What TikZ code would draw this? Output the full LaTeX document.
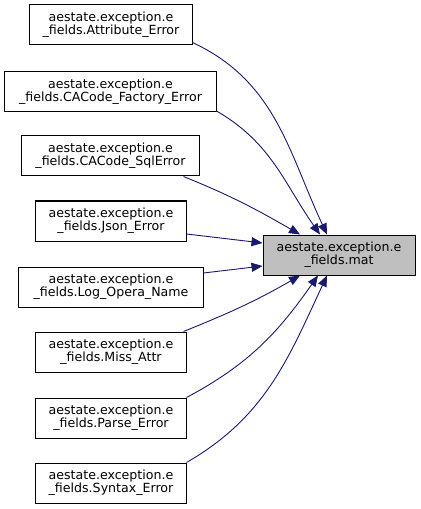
\documentclass[tikz,border=0pt]{standalone}
\usepackage{fontspec}
\setmainfont{DejaVu Sans}
\usetikzlibrary{arrows.meta,calc}
\definecolor{edgeblue}{HTML}{191970}
\definecolor{matgray}{HTML}{BFBFBF}
\begin{document}
\begin{tikzpicture}[x=1bp,y=-1bp,
  cls/.style={draw=black,line width=1bp,fill=white,minimum height=40bp,inner sep=0pt,align=center,
    font=\fontsize{12.6bp}{12.8bp}\selectfont},
  dep/.style={draw=edgeblue,line width=0.9bp,-{Triangle[length=11bp,width=9bp,fill=edgeblue]}}]
\useasboundingbox (0,0) rectangle (420,509);
\node[cls,minimum width=162bp] (a1) at (111,25) {aestate.exception.e\\\_fields.Attribute\_Error};
\node[cls,minimum width=211bp] (a2) at (110.5,91.5) {aestate.exception.e\\\_fields.CACode\_Factory\_Error};
\node[cls,minimum width=177bp] (a3) at (110.5,156) {aestate.exception.e\\\_fields.CACode\_SqlError};
\node[cls,minimum width=150bp] (a4) at (111,221) {aestate.exception.e\\\_fields.Json\_Error};
\node[cls,minimum width=184bp] (a5) at (111,287) {aestate.exception.e\\\_fields.Log\_Opera\_Name};
\node[cls,minimum width=150bp] (a6) at (111,352) {aestate.exception.e\\\_fields.Miss\_Attr};
\node[cls,minimum width=150bp] (a7) at (111,418) {aestate.exception.e\\\_fields.Parse\_Error};
\node[cls,minimum width=150bp] (a8) at (111,483) {aestate.exception.e\\\_fields.Syntax\_Error};
\node[cls,fill=matgray,minimum width=152bp] (m) at (339,255) {aestate.exception.e\\\_fields.mat};
\draw[dep] ([yshift=3bp]a1.south east) to[out=-25,in=115] ([xshift=-12bp]m.north);
\draw[dep] ([yshift=1bp]a2.south east) to[out=-30,in=125] ([xshift=-19bp]m.north);
\draw[dep] ([xshift=-16bp]a3.south east) to[out=-22,in=150] ([xshift=-39bp]m.north);
\draw[dep] ([yshift=-13bp]a4.east) -- ([yshift=12bp]m.west);
\draw[dep] ([yshift=14bp]a5.east) -- ([yshift=-11bp]m.west);
\draw[dep] ([xshift=-3bp]a6.north east) to[out=22,in=-150] ([xshift=-39bp]m.south);
\draw[dep] (a7.north east) to[out=28,in=-125] ([xshift=-21bp]m.south);
\draw[dep] (a8.north east) to[out=30,in=-115] ([xshift=-12bp]m.south);
\end{tikzpicture}
\end{document}
